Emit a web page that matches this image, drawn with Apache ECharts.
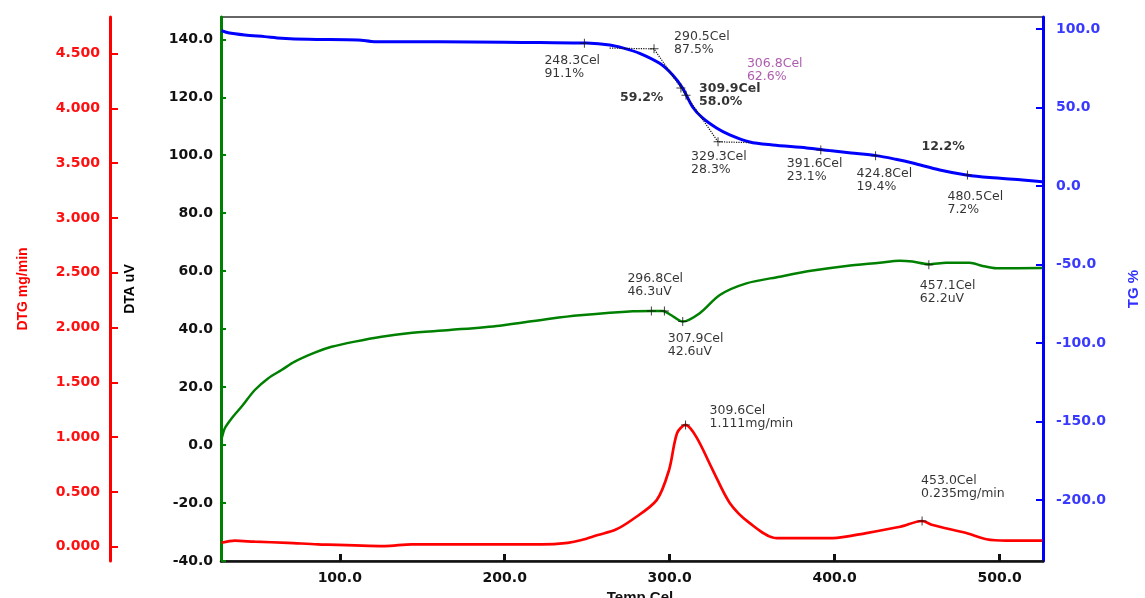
<!DOCTYPE html>
<html>
<head>
<meta charset="utf-8">
<script src="https://cdn.jsdelivr.net/npm/echarts@6/dist/echarts.min.js"></script>
<style>
html,body{margin:0;padding:0;background:#fff;overflow:hidden;}
#chart{width:1145px;height:598px;}
</style>
</head>
<body>
<div id="chart"></div>
<script>
// ---------- DATA ----------
const xTicks = [100, 200, 300, 400, 500];
const dtaTicks = [-40, -20, 0, 20, 40, 60, 80, 100, 120, 140];
const dtgTicks = [0, 0.5, 1.0, 1.5, 2.0, 2.5, 3.0, 3.5, 4.0, 4.5];
const tgTicks = [-200, -150, -100, -50, 0, 50, 100];

// TG curve (Temp Cel, %)
const tgCurve = [
  [28.3,99.1],[32.3,97.8],[42.4,96.4],[54.5,95.3],[64.7,94.3],[80.8,93.6],[111.1,93.2],
  [121.2,92.1],[160,92.0],[200,91.7],[221.2,91.5],[249.5,91.2],[263.6,90.0],[272,88.0],
  [281.8,84.7],[293.9,78.3],[301.8,70.9],[307.8,62.6],[313.9,50.5],[319.9,43.5],[328.4,37.1],
  [336.4,32.7],[348.5,28.2],[362.4,26.3],[383.0,24.4],[396.8,22.7],[410,21.2],[425.3,19.5],
  [437,17.2],[447.3,14.8],[463.7,10.4],[479.8,7.2],[494,5.5],[514,4.0],[525.9,2.9]
];
// TG tangent construction (dotted)
const tgTangent = [[263.6,88.0],[290.5,87.5],[329.3,28.3],[348,27.8]];

// DTA curve (Temp Cel, uV)
const dtaCurve = [
  [28.3,2.0],[28.7,2.9],[30.3,5.8],[34.4,9.2],[40.4,13.2],[48.5,19.0],[56.5,23.0],[64.7,25.9],
  [72.7,28.8],[84.8,31.9],[95,33.9],[109.1,35.7],[125.3,37.4],[141.4,38.6],[166.7,39.7],
  [197,41.2],[227.3,43.6],[245.5,44.8],[277.6,46.2],[288.9,46.3],[295.8,46.3],[301.0,44.8],
  [307.9,42.6],[318.2,45.5],[330.4,51.8],[346.5,55.8],[366.7,58.1],[386.7,60.2],[407.1,61.8],
  [427.2,62.9],[439.4,63.6],[447.2,63.3],[457.1,62.4],[467.7,62.9],[481.8,62.9],[489.7,61.8],
  [498,61.0],[525.9,61.1]
];

// DTG curve (Temp Cel, mg/min)
const dtgCurve = [
  [28.3,0.036],[36.4,0.055],[48.5,0.046],[68.5,0.036],[86.7,0.022],[127.3,0.006],[143.6,0.022],
  [222.4,0.022],[238.2,0.036],[246.6,0.061],[256.4,0.107],[266.7,0.152],[277,0.244],[292.1,0.425],
  [299.6,0.70],[304.5,1.037],[309.6,1.111],[316.2,1.0],[326.1,0.70],[336.4,0.40],[348.5,0.216],
  [364.7,0.079],[398.8,0.079],[419.2,0.125],[439.7,0.182],[453.0,0.235],[459.4,0.198],
  [479.8,0.125],[492,0.068],[504,0.055],[525.9,0.055]
];

// Annotations: [Temp, value, text]
const tgNotes = [
  [248.3, 91.1, '248.3Cel\n91.1%'],
  [290.5, 87.5, '290.5Cel\n87.5%'],
  [306.8, 62.6, '306.8Cel\n62.6%'],
  [309.9, 58.0, '309.9Cel\n58.0%'],
  [329.3, 28.3, '329.3Cel\n28.3%'],
  [391.6, 23.1, '391.6Cel\n23.1%'],
  [424.8, 19.4, '424.8Cel\n19.4%'],
  [480.5, 7.2, '480.5Cel\n7.2%']
];
const tgSteps = [[309.9, 58.0, '59.2%'], [480.5, 7.2, '12.2%']];
const dtaNotes = [
  [288.9, 46.3, ''],
  [296.8, 46.3, '296.8Cel\n46.3uV'],
  [307.9, 42.6, '307.9Cel\n42.6uV'],
  [457.1, 62.2, '457.1Cel\n62.2uV']
];
const dtgNotes = [
  [309.6, 1.111, '309.6Cel\n1.111mg/min'],
  [453.0, 0.235, '453.0Cel\n0.235mg/min']
];

// ---------- LAYOUT / STYLE (label offsets in px, relative to marker) ----------
const tgOffsets = [[-40,11],[20,-19],[66,-31],[13,-13],[-27,8],[-34,7.5],[-19,11],[-20,15]];
const tgNoteColors = ['#000','#000','#993399','#000','#000','#000','#000','#000'];
const tgNoteWeights = ['normal','normal','normal','bold','normal','normal','normal','normal'];
const tgStepOffsets = [[-66,-4],[-46,-35]];
const dtaOffsets = [[0,0],[-37,-39],[-15,11],[-9,14]];
const dtgOffsets = [[24,-21],[-1,-47]];

const PLUS = 'path://M4,0H5V4H9V5H5V9H4V5H0V4H4Z';
const MS = 9;
const noteFont = {fontFamily:'DejaVu Sans', fontSize:12.5, lineHeight:13};

function noteItems(notes, offsets, colors, weights){
  return notes.map((n,i)=>({
    value:[n[0], n[1]],
    symbol: PLUS, symbolSize: MS,
    label:{
      show: n[2] !== '',
      formatter: n[2],
      position:[offsets[i][0]+MS/2, offsets[i][1]+MS/2],
      align:'left', verticalAlign:'top',
      color: colors ? colors[i] : '#000',
      fontWeight: weights ? weights[i] : 'normal',
      ...noteFont
    }
  }));
}
function textItems(notes, offsets){
  return notes.map((n,i)=>({
    value:[n[0], n[1]],
    symbol:'circle', symbolSize:1,
    itemStyle:{color:'rgba(0,0,0,0)'},
    label:{
      show:true, formatter:n[2],
      position:[offsets[i][0]+0.5, offsets[i][1]+0.5],
      align:'left', verticalAlign:'top',
      color:'#000', fontWeight:'bold', ...noteFont
    }
  }));
}

const tickFont = {fontFamily:'DejaVu Sans', fontWeight:'bold', fontSize:14};
const titleFont = {fontFamily:'Liberation Sans', fontWeight:'bold', fontSize:14};

const chart = echarts.init(document.getElementById('chart'), null, {renderer:'canvas', width:1145, height:598});
chart.setOption({
  animation:false,
  backgroundColor:'#fff',
  grid:{left:221, right:102, top:17, bottom:37, containLabel:false, outerBoundsMode:'none',
        show:true, borderColor:'#333', borderWidth:1.5, backgroundColor:'transparent'},
  xAxis:{
    type:'value', min:28.0, max:526.3,
    name:'Temp Cel', nameLocation:'middle', nameGap:27,
    nameTextStyle:{...titleFont, fontSize:15, color:'#111', padding:[0,0,0,16]},
    axisLine:{show:true, onZero:false, lineStyle:{color:'#111', width:2.5}},
    axisTick:{show:true, inside:true, length:7, customValues:xTicks, lineStyle:{color:'#111', width:3}},
    axisLabel:{customValues:xTicks, formatter:v=>v.toFixed(1), margin:10, color:'#111', ...tickFont},
    splitLine:{show:false}
  },
  yAxis:[
    { // 0: DTG
      type:'value', position:'left', offset:111, min:-0.130, max:4.833,
      name:'DTG mg/min', nameLocation:'middle', nameRotate:90, nameGap:80,
      nameTextStyle:{...titleFont, color:'#ff0000'},
      axisLine:{show:true, onZero:false, lineStyle:{color:'#ff0000', width:3}},
      axisTick:{show:true, inside:true, length:8, customValues:dtgTicks, lineStyle:{color:'#ff0000', width:2}},
      axisLabel:{customValues:dtgTicks, formatter:v=>v.toFixed(3), margin:10, color:'#ff1010', ...tickFont},
      splitLine:{show:false}
    },
    { // 1: DTA
      type:'value', position:'left', offset:0, min:-40, max:147.7,
      name:'DTA uV', nameLocation:'middle', nameRotate:90, nameGap:84,
      nameTextStyle:{...titleFont, color:'#000'},
      axisLine:{show:true, onZero:false, lineStyle:{color:'#008000', width:3}},
      axisTick:{show:true, inside:true, length:5, customValues:dtaTicks, lineStyle:{color:'#008000', width:2}},
      axisLabel:{customValues:dtaTicks, formatter:v=>v.toFixed(1), margin:8, color:'#111', ...tickFont},
      splitLine:{show:false}
    },
    { // 2: TG
      type:'value', position:'right', offset:0, min:-238.7, max:107.8,
      name:'TG %', nameLocation:'middle', nameRotate:90, nameGap:83,
      nameTextStyle:{...titleFont, fontSize:15, color:'#3030ff'},
      axisLine:{show:true, onZero:false, lineStyle:{color:'#0000ff', width:3}},
      axisTick:{show:true, inside:true, length:7, customValues:tgTicks, lineStyle:{color:'#0000ff', width:2}},
      axisLabel:{customValues:tgTicks, formatter:v=>v.toFixed(1), margin:13, color:'#3a3aff', ...tickFont},
      splitLine:{show:false}
    }
  ],
  series:[
    {type:'line', yAxisIndex:2, data:tgCurve, showSymbol:false, symbol:'none', smooth:0.3,
     lineStyle:{color:'#0000ff', width:3}, z:3},
    {type:'line', yAxisIndex:2, data:tgTangent, showSymbol:false, symbol:'none',
     lineStyle:{color:'#111', width:1.2, type:'dotted'}, z:4},
    {type:'line', yAxisIndex:1, data:dtaCurve, showSymbol:false, symbol:'none', smooth:0.3,
     lineStyle:{color:'#008000', width:2.5}, z:3},
    {type:'line', yAxisIndex:0, data:dtgCurve, showSymbol:false, symbol:'none', smooth:0.3,
     lineStyle:{color:'#ff0000', width:2.7}, z:3},
    {type:'scatter', yAxisIndex:2, data:noteItems(tgNotes, tgOffsets, tgNoteColors, tgNoteWeights),
     itemStyle:{color:'#111'}, z:5},
    {type:'scatter', yAxisIndex:2, data:textItems(tgSteps, tgStepOffsets), z:5},
    {type:'scatter', yAxisIndex:1, data:noteItems(dtaNotes, dtaOffsets), itemStyle:{color:'#111'}, z:5},
    {type:'scatter', yAxisIndex:0, data:noteItems(dtgNotes, dtgOffsets), itemStyle:{color:'#111'}, z:5}
  ]
});
</script>
</body>
</html>
